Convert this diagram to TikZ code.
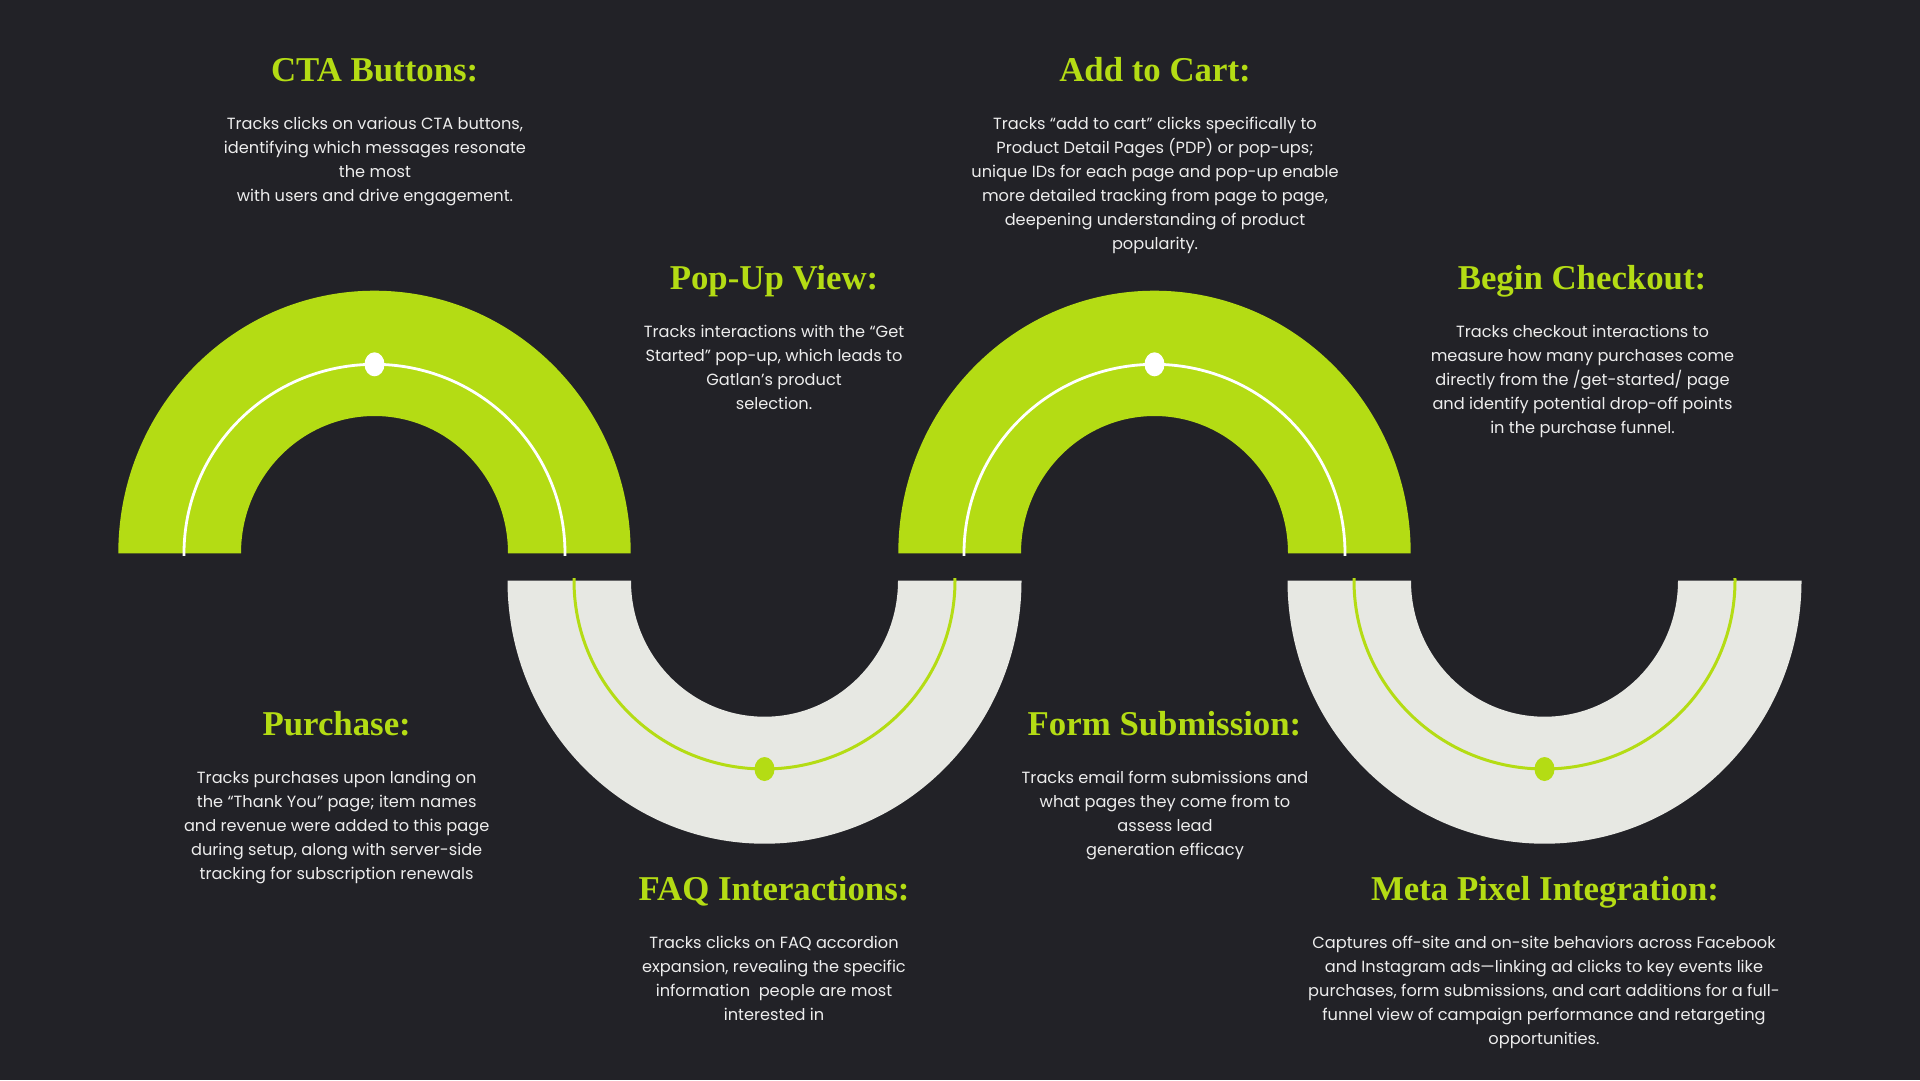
\documentclass[tikz,border=0pt]{standalone}
\usepackage{fontspec}
\setmainfont{Poppins}
\newfontfamily\titlefont{Liberation Serif}
\usetikzlibrary{shapes.geometric}
\definecolor{bg}{HTML}{222227}
\definecolor{lime}{HTML}{B4DC14}
\definecolor{pale}{HTML}{E7E8E3}
\definecolor{txt}{HTML}{EDEDED}
\newcommand{\bodylines}[1]{\begin{tabular}[t]{@{}c@{}}#1\end{tabular}}
\tikzset{
  ttl/.style={anchor=base, text=lime, inner sep=0pt, font=\titlefont\bfseries\fontsize{34.8}{40}\selectfont},
  body/.style={anchor=base, text=txt, inner sep=0pt, font=\fontsize{16.2}{24}\selectfont},
  archfill/.style={fill=lime},
  cupfill/.style={fill=pale},
  wline/.style={draw=white, line width=2.8pt},
  gline/.style={draw=lime, line width=3pt},
  wdot/.style={ellipse, fill=white, minimum width=20pt, minimum height=24pt, inner sep=0pt},
  gdot/.style={ellipse, fill=lime, minimum width=20pt, minimum height=24pt, inner sep=0pt},
}
\begin{document}
\begin{tikzpicture}[x=1pt,y=-1pt]
\fill[bg] (0,0) rectangle (1920,1080);
\useasboundingbox (0,0) rectangle (1920,1080);

% centres
\coordinate (c1) at (374.5,553.3);
\coordinate (c2) at (764.5,580.7);
\coordinate (c3) at (1154.5,553.3);
\coordinate (c4) at (1544.5,580.7);

% arches (lime, opening downward)
\foreach \c in {c1,c3}{
  \fill[archfill] ([xshift=256.2pt]\c) arc[start angle=0,end angle=180,x radius=256.2pt,y radius=262.6pt]
     -- ([xshift=-133.5pt]\c) arc[start angle=180,end angle=0,x radius=133.5pt,y radius=137.3pt] -- cycle;
  \draw[wline] ([shift={(-0.8:190.5pt and 189pt)}]\c) arc[start angle=-0.8,end angle=180.8,x radius=190.5pt,y radius=189pt];
}
% cups (pale, opening upward)
\foreach \c in {c2,c4}{
  \fill[cupfill] ([xshift=-257pt]\c) arc[start angle=180,end angle=360,x radius=257pt,y radius=263pt]
     -- ([xshift=133.5pt]\c) arc[start angle=360,end angle=180,x radius=133.5pt,y radius=136pt] -- cycle;
  \draw[gline] ([shift={(179.2:190.5pt and 188.3pt)}]\c) arc[start angle=179.2,end angle=360.8,x radius=190.5pt,y radius=188.3pt];
}
\node[wdot] (d1) at (374.5,364.3) {};
\node[wdot] (d3) at (1154.5,364.3) {};
\node[gdot] (d2) at (764.5,769) {};
\node[gdot] (d4) at (1544.5,769) {};

% texts
\node[ttl] (t1) at (374.7,81.7) {CTA Buttons:};
\node[body] (b1) at (375,129.3) {\bodylines{Tracks clicks on various CTA buttons,\\identifying which messages resonate\\the most\\with users and drive engagement.}};

\node[ttl] (t2) at (1155,81.7) {Add to Cart:};
\node[body] (b2) at (1155,129.3) {\bodylines{Tracks “add to cart” clicks specifically to\\Product Detail Pages (PDP) or pop-ups;\\unique IDs for each page and pop-up enable\\more detailed tracking from page to page,\\deepening understanding of product\\popularity.}};

\node[ttl] (t3) at (774,289.7) {Pop-Up View:};
\node[body] (b3) at (774,337.3) {\bodylines{Tracks interactions with the “Get\\Started” pop-up, which leads to\\Gatlan’s product\\selection.}};

\node[ttl] (t4) at (1582,289.7) {Begin Checkout:};
\node[body] (b4) at (1582.5,337.3) {\bodylines{Tracks checkout interactions to\\measure how many purchases come\\directly from the /get-started/ page\\and identify potential drop-off points\\in the purchase funnel.}};

\node[ttl] (t5) at (336.7,735.4) {Purchase:};
\node[body] (b5) at (336.7,783) {\bodylines{Tracks purchases upon landing on\\the “Thank You” page; item names\\and revenue were added to this page\\during setup, along with server-side\\tracking for subscription renewals}};

\node[ttl] (t6) at (1164.5,735.4) {Form Submission:};
\node[body] (b6) at (1165,783) {\bodylines{Tracks email form submissions and\\what pages they come from to\\assess lead\\generation efficacy}};

\node[ttl] (t7) at (774,900.7) {FAQ Interactions:};
\node[body] (b7) at (774,948.3) {\bodylines{Tracks clicks on FAQ accordion\\expansion, revealing the specific\\information\ \ people are most\\interested in}};

\node[ttl] (t8) at (1545,900.7) {Meta Pixel Integration:};
\node[body] (b8) at (1544,948.3) {\bodylines{Captures off-site and on-site behaviors across Facebook\\and Instagram ads—linking ad clicks to key events like\\purchases, form submissions, and cart additions for a full-\\funnel view of campaign performance and retargeting\\opportunities.}};
\end{tikzpicture}
\end{document}
